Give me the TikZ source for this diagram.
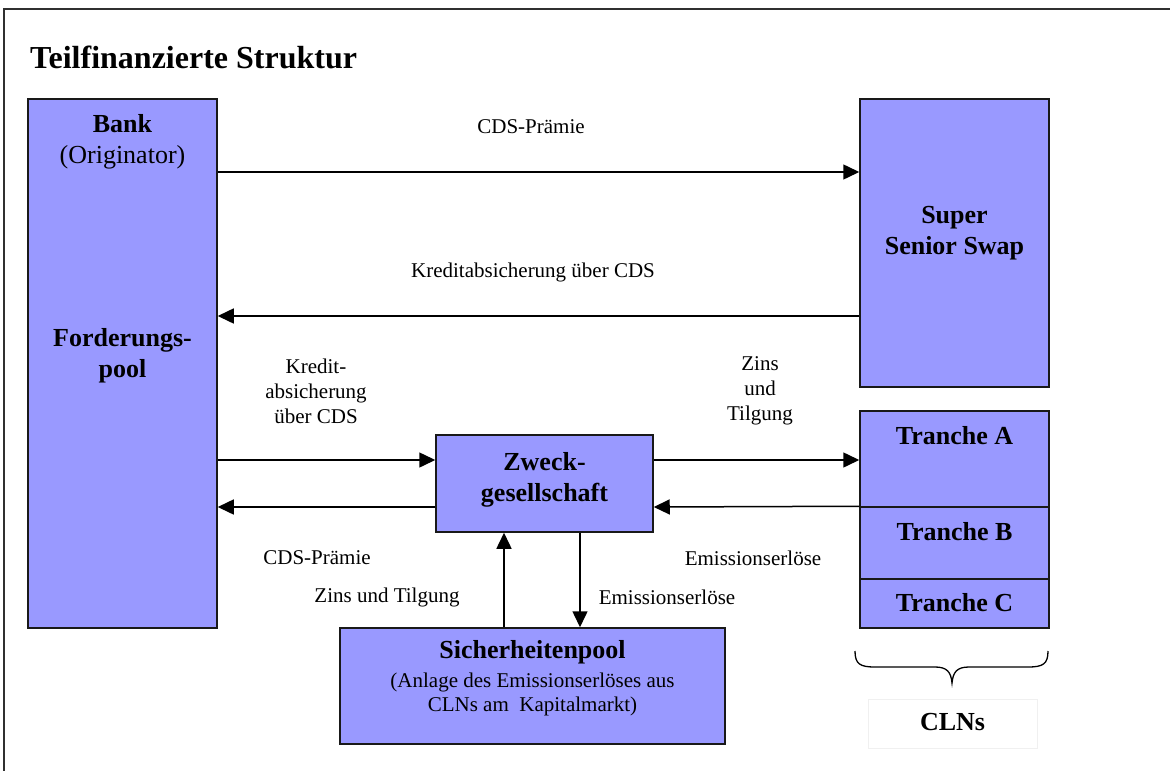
\documentclass[tikz,border=0pt]{standalone}
\usepackage{fontspec}
\setmainfont{Liberation Serif}
\usetikzlibrary{arrows.meta}
\definecolor{boxfill}{HTML}{9999FF}
\definecolor{framegray}{HTML}{303030}
\begin{document}
\begin{tikzpicture}[x=1pt,y=-1pt,
  box/.style={draw=black!90,line width=1.5pt,fill=boxfill,rectangle,inner sep=0pt},
  big/.style={font=\fontsize{26}{31}\selectfont\bfseries,align=center,inner sep=0pt},
  bigreg/.style={font=\fontsize{26}{31}\selectfont,align=center,inner sep=0pt},
  lbl/.style={font=\fontsize{21}{25}\selectfont,align=center,inner sep=0pt},
  arr/.style={line width=1.5pt,-{Triangle[length=16pt,width=15pt]}}]
\useasboundingbox (0,0) rectangle (1170,771);
% frame (top and left only)
\coordinate (fa) at (1170,9);
\coordinate (fb) at (4,9);
\coordinate (fc) at (4,771);
\draw[framegray,line width=2.2pt] (fa) -- (fb) -- (fc);
\node[anchor=west,font=\fontsize{32}{38}\selectfont\bfseries,inner sep=0pt] (title) at (30,57) {Teilfinanzierte Struktur};
% boxes
\node[box,minimum width=189,minimum height=529] (bank) at (122.5,363.5) {};
\node[box,minimum width=189,minimum height=288] (sss) at (954.5,243) {};
\node[box,minimum width=217,minimum height=97] (zw) at (544.5,483.5) {};
\node[box,minimum width=385,minimum height=116] (sp) at (532.5,686) {};
\node[box,minimum width=189,minimum height=96] (ta) at (954.5,459) {};
\node[box,minimum width=189,minimum height=72] (tb) at (954.5,543) {};
\node[box,minimum width=189,minimum height=49] (tc) at (954.5,603.5) {};
\node[draw=black!6,line width=1pt,minimum width=169,minimum height=49,inner sep=0pt] (cln) at (952.5,723.5) {};
% box texts
\node[big] (bankt) at (122.5,124) {Bank};
\node[bigreg] (orig) at (122.5,157) {(Originator)};
\node[big] (ford) at (122.5,356) {Forderungs-\\pool};
\node[big] (sssT) at (954.5,233) {Super\\Senior Swap};
\node[big] (zwT) at (544.5,480) {Zweck-\\gesellschaft};
\node[big] (spT) at (532.5,652) {Sicherheitenpool};
\node[font=\fontsize{21}{24}\selectfont,align=center,inner sep=0pt] (spS) at (532.5,694) {(Anlage des Emissionserlöses aus\\CLNs am~~Kapitalmarkt)};
\node[big] (taT) at (954.5,436) {Tranche A};
\node[big] (tbT) at (954.5,532) {Tranche B};
\node[big] (tcT) at (954.5,603) {Tranche C};
\node[big] (clnT) at (952.5,722) {CLNs};
% brace
\coordinate (br1) at (855,651);
\coordinate (br2) at (1048,651);
\coordinate (brt) at (952,683);
\draw[line width=1.3pt] (br1) .. controls (855,664) and (860,667) .. (875,667)
  -- (935,667) .. controls (947,667) and (951,672) .. (brt)
  .. controls (953,672) and (957,667) .. (969,667)
  -- (1028,667) .. controls (1043,667) and (1048,664) .. (br2);
% arrows
\coordinate (y1) at (0,172);
\coordinate (y2) at (0,316);
\coordinate (y3) at (0,460);
\coordinate (y4) at (0,507);
\coordinate (x1) at (504,0);
\coordinate (x2) at (580,0);
\draw[arr] (bank.east |- y1) -- (sss.west |- y1);
\draw[arr] (sss.west |- y2) -- (bank.east |- y2);
\draw[arr] (bank.east |- y3) -- (zw.west |- y3);
\draw[arr] (zw.west |- y4) -- (bank.east |- y4);
\draw[arr] (zw.east |- y3) -- (ta.west |- y3);
\draw[arr] (tb.north west) -- (zw.east |- y4);
\draw[arr] (x1 |- sp.north) -- (x1 |- zw.south);
\draw[arr] (x2 |- zw.south) -- (x2 |- sp.north);
% labels
\node[lbl] (l1) at (531,127) {CDS-Prämie};
\node[lbl] (l2) at (533,272) {Kreditabsicherung über CDS};
\node[lbl] (l3) at (316,391) {Kredit-\\absicherung\\über CDS};
\node[lbl] (l4) at (760,391) {Zins\\und\\Tilgung};
\node[lbl] (l5) at (317,558) {CDS-Prämie};
\node[lbl] (l6) at (387,597) {Zins und Tilgung};
\node[lbl] (l7) at (753,558) {Emissionserlöse};
\node[lbl] (l8) at (667,597) {Emissionserlöse};
\end{tikzpicture}
\end{document}
